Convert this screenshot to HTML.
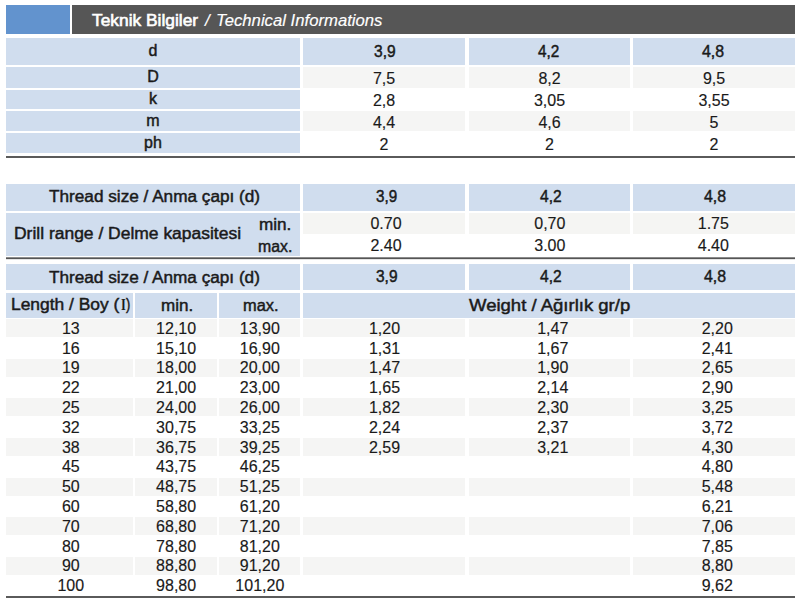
<!DOCTYPE html>
<html><head><meta charset="utf-8"><style>
html,body{margin:0;padding:0;background:#fff;}
body{width:800px;height:600px;position:relative;overflow:hidden;font-family:"Liberation Sans",sans-serif;font-size:16px;}
.b{position:absolute;}
.t{position:absolute;white-space:nowrap;color:#1a1a1a;line-height:normal;transform-origin:0 0;-webkit-text-stroke-width:0.15px;}
</style></head><body>
<div class="b" style="left:6px;top:5px;width:64px;height:29px;background:#6293ce"></div>
<div class="b" style="left:72px;top:5px;width:723px;height:29px;background:#565656"></div>
<div class="t" style="left:91.62px;top:11.07px;font-size:16.5px;-webkit-text-stroke-width:0.6px;color:#ffffff;transform:scaleX(1.052);">Teknik Bilgiler</div>
<div class="t" style="left:204.76px;top:11.07px;font-size:16.5px;font-style:italic;color:#ffffff;transform:scaleX(1.026);">/</div>
<div class="t" style="left:216.00px;top:11.07px;font-size:16.5px;font-style:italic;color:#ffffff;transform:scaleX(1.012);">Technical Informations</div>
<div class="b" style="left:6px;top:38px;width:294px;height:27px;background:#d0ddee"></div>
<div class="t" style="left:148.55px;top:42.02px;-webkit-text-stroke-width:0.45px;">d</div>
<div class="b" style="left:303px;top:38px;width:162px;height:27px;background:#d0ddee"></div>
<div class="t" style="left:374.22px;top:42.52px;-webkit-text-stroke-width:0.45px;transform:scaleX(0.971);">3,9</div>
<div class="b" style="left:469px;top:38px;width:161px;height:27px;background:#d0ddee"></div>
<div class="t" style="left:538.12px;top:42.52px;-webkit-text-stroke-width:0.45px;transform:scaleX(0.958);">4,2</div>
<div class="b" style="left:633px;top:38px;width:162px;height:27px;background:#d0ddee"></div>
<div class="t" style="left:702.42px;top:42.52px;-webkit-text-stroke-width:0.45px;transform:scaleX(0.993);">4,8</div>
<div class="b" style="left:6px;top:67px;width:294px;height:21px;background:#d0ddee"></div>
<div class="t" style="left:147.20px;top:68.02px;-webkit-text-stroke-width:0.45px;">D</div>
<div class="b" style="left:303px;top:67px;width:162px;height:21px;background:#f5f5f4"></div>
<div class="t" style="left:372.90px;top:70.02px;">7,5</div>
<div class="b" style="left:469px;top:67px;width:161px;height:21px;background:#f5f5f4"></div>
<div class="t" style="left:538.40px;top:70.02px;">8,2</div>
<div class="b" style="left:633px;top:67px;width:162px;height:21px;background:#f5f5f4"></div>
<div class="t" style="left:702.90px;top:70.02px;">9,5</div>
<div class="b" style="left:6px;top:89.6px;width:294px;height:19.80000000000001px;background:#d0ddee"></div>
<div class="t" style="left:148.95px;top:89.52px;-webkit-text-stroke-width:0.45px;">k</div>
<div class="t" style="left:372.90px;top:92.12px;">2,8</div>
<div class="t" style="left:533.95px;top:92.12px;">3,05</div>
<div class="t" style="left:698.45px;top:92.12px;">3,55</div>
<div class="b" style="left:6px;top:111px;width:294px;height:20.400000000000006px;background:#d0ddee"></div>
<div class="t" style="left:146.35px;top:111.52px;-webkit-text-stroke-width:0.45px;">m</div>
<div class="b" style="left:303px;top:111px;width:162px;height:20.400000000000006px;background:#f5f5f4"></div>
<div class="t" style="left:372.90px;top:113.62px;">4,4</div>
<div class="b" style="left:469px;top:111px;width:161px;height:20.400000000000006px;background:#f5f5f4"></div>
<div class="t" style="left:538.40px;top:113.62px;">4,6</div>
<div class="b" style="left:633px;top:111px;width:162px;height:20.400000000000006px;background:#f5f5f4"></div>
<div class="t" style="left:709.55px;top:113.62px;">5</div>
<div class="b" style="left:6px;top:133.4px;width:294px;height:20.099999999999994px;background:#d0ddee"></div>
<div class="t" style="left:144.10px;top:133.52px;-webkit-text-stroke-width:0.45px;">ph</div>
<div class="t" style="left:379.55px;top:136.12px;">2</div>
<div class="t" style="left:545.05px;top:136.12px;">2</div>
<div class="t" style="left:709.55px;top:136.12px;">2</div>
<div class="b" style="left:6px;top:156px;width:789px;height:2px;background:#5a5a5a"></div>
<div class="b" style="left:6px;top:184px;width:294px;height:27px;background:#d0ddee"></div>
<div class="t" style="left:48.54px;top:187.52px;-webkit-text-stroke-width:0.45px;transform:scaleX(1.074);">Thread size / Anma çapı (d)</div>
<div class="b" style="left:303px;top:184px;width:162px;height:27px;background:#d0ddee"></div>
<div class="t" style="left:376.21px;top:187.92px;-webkit-text-stroke-width:0.45px;transform:scaleX(0.949);">3,9</div>
<div class="b" style="left:469px;top:184px;width:161px;height:27px;background:#d0ddee"></div>
<div class="t" style="left:539.92px;top:187.92px;-webkit-text-stroke-width:0.45px;transform:scaleX(0.971);">4,2</div>
<div class="b" style="left:633px;top:184px;width:162px;height:27px;background:#d0ddee"></div>
<div class="t" style="left:703.92px;top:187.92px;-webkit-text-stroke-width:0.45px;transform:scaleX(0.993);">4,8</div>
<div class="b" style="left:6px;top:213px;width:294px;height:43px;background:#d0ddee"></div>
<div class="t" style="left:14.25px;top:224.52px;-webkit-text-stroke-width:0.45px;transform:scaleX(1.091);">Drill range / Delme kapasitesi</div>
<div class="t" style="left:258.74px;top:216.02px;-webkit-text-stroke-width:0.45px;transform:scaleX(1.070);">min.</div>
<div class="t" style="left:257.72px;top:237.62px;-webkit-text-stroke-width:0.45px;transform:scaleX(0.990);">max.</div>
<div class="b" style="left:303px;top:213px;width:162px;height:21px;background:#f5f5f3"></div>
<div class="t" style="left:370.45px;top:214.72px;">0.70</div>
<div class="t" style="left:370.45px;top:236.52px;">2.40</div>
<div class="b" style="left:469px;top:213px;width:161px;height:21px;background:#f5f5f3"></div>
<div class="t" style="left:534.25px;top:214.72px;">0,70</div>
<div class="t" style="left:534.25px;top:236.52px;">3.00</div>
<div class="b" style="left:633px;top:213px;width:162px;height:21px;background:#f5f5f3"></div>
<div class="t" style="left:697.75px;top:214.72px;">1.75</div>
<div class="t" style="left:697.75px;top:236.52px;">4.40</div>
<div class="b" style="left:6px;top:257px;width:789px;height:1px;background:#8a8a8a"></div>
<div class="b" style="left:6px;top:258px;width:789px;height:1px;background:#555555"></div>
<div class="b" style="left:6px;top:259px;width:789px;height:1px;background:#e4e4e4"></div>
<div class="b" style="left:6px;top:264px;width:294px;height:26px;background:#d0ddee"></div>
<div class="t" style="left:49.24px;top:268.72px;-webkit-text-stroke-width:0.45px;transform:scaleX(1.073);">Thread size / Anma çapı (d)</div>
<div class="b" style="left:303px;top:264px;width:162px;height:26px;background:#d0ddee"></div>
<div class="t" style="left:376.12px;top:267.72px;-webkit-text-stroke-width:0.45px;transform:scaleX(0.967);">3,9</div>
<div class="b" style="left:469px;top:264px;width:161px;height:26px;background:#d0ddee"></div>
<div class="t" style="left:539.92px;top:267.72px;-webkit-text-stroke-width:0.45px;transform:scaleX(0.971);">4,2</div>
<div class="b" style="left:633px;top:264px;width:162px;height:26px;background:#d0ddee"></div>
<div class="t" style="left:703.92px;top:267.72px;-webkit-text-stroke-width:0.45px;transform:scaleX(0.993);">4,8</div>
<div class="b" style="left:6px;top:293px;width:127px;height:24.5px;background:#d0ddee"></div>
<div class="b" style="left:135px;top:293px;width:82px;height:24.5px;background:#d0ddee"></div>
<div class="b" style="left:219px;top:293px;width:81px;height:24.5px;background:#d0ddee"></div>
<div class="b" style="left:303px;top:293px;width:492px;height:24.5px;background:#d0ddee"></div>
<div class="t" style="left:11.24px;top:296.02px;-webkit-text-stroke-width:0.45px;transform:scaleX(1.088);">Length / Boy (</div>
<div class="t" style="left:121.00px;top:295.27px;font-size:16.5px;font-family:'Liberation Serif',serif;font-weight:bold;-webkit-text-stroke-width:0;transform:scaleX(0.751);">I</div>
<div class="t" style="left:125.78px;top:296.02px;-webkit-text-stroke-width:0.45px;transform:scaleX(0.800);">)</div>
<div class="t" style="left:160.64px;top:296.52px;-webkit-text-stroke-width:0.45px;transform:scaleX(1.064);">min.</div>
<div class="t" style="left:242.83px;top:296.52px;-webkit-text-stroke-width:0.45px;transform:scaleX(1.024);">max.</div>
<div class="t" style="left:469.06px;top:297.02px;-webkit-text-stroke-width:0.45px;transform:scaleX(1.157);">Weight / Ağırlık gr/p</div>
<div class="b" style="left:6px;top:319px;width:127px;height:18px;background:#f5f5f4"></div>
<div class="b" style="left:135px;top:319px;width:82px;height:18px;background:#f5f5f4"></div>
<div class="b" style="left:219px;top:319px;width:81px;height:18px;background:#f5f5f4"></div>
<div class="b" style="left:303px;top:319px;width:162px;height:18px;background:#f5f5f4"></div>
<div class="b" style="left:469px;top:319px;width:161px;height:18px;background:#f5f5f4"></div>
<div class="b" style="left:633px;top:319px;width:162px;height:18px;background:#f5f5f4"></div>
<div class="t" style="left:61.90px;top:319.72px;">13</div>
<div class="t" style="left:156.10px;top:319.72px;">12,10</div>
<div class="t" style="left:239.80px;top:319.72px;">13,90</div>
<div class="t" style="left:368.95px;top:319.72px;">1,20</div>
<div class="t" style="left:537.15px;top:319.72px;">1,47</div>
<div class="t" style="left:701.65px;top:319.72px;">2,20</div>
<div class="t" style="left:61.90px;top:339.52px;">16</div>
<div class="t" style="left:156.10px;top:339.52px;">15,10</div>
<div class="t" style="left:239.80px;top:339.52px;">16,90</div>
<div class="t" style="left:368.95px;top:339.52px;">1,31</div>
<div class="t" style="left:537.15px;top:339.52px;">1,67</div>
<div class="t" style="left:701.65px;top:339.52px;">2,41</div>
<div class="b" style="left:6px;top:359px;width:127px;height:18px;background:#f5f5f4"></div>
<div class="b" style="left:135px;top:359px;width:82px;height:18px;background:#f5f5f4"></div>
<div class="b" style="left:219px;top:359px;width:81px;height:18px;background:#f5f5f4"></div>
<div class="b" style="left:303px;top:359px;width:162px;height:18px;background:#f5f5f4"></div>
<div class="b" style="left:469px;top:359px;width:161px;height:18px;background:#f5f5f4"></div>
<div class="b" style="left:633px;top:359px;width:162px;height:18px;background:#f5f5f4"></div>
<div class="t" style="left:61.90px;top:359.32px;">19</div>
<div class="t" style="left:156.10px;top:359.32px;">18,00</div>
<div class="t" style="left:239.80px;top:359.32px;">20,00</div>
<div class="t" style="left:368.95px;top:359.32px;">1,47</div>
<div class="t" style="left:537.15px;top:359.32px;">1,90</div>
<div class="t" style="left:701.65px;top:359.32px;">2,65</div>
<div class="t" style="left:61.90px;top:379.12px;">22</div>
<div class="t" style="left:156.10px;top:379.12px;">21,00</div>
<div class="t" style="left:239.80px;top:379.12px;">23,00</div>
<div class="t" style="left:368.95px;top:379.12px;">1,65</div>
<div class="t" style="left:537.15px;top:379.12px;">2,14</div>
<div class="t" style="left:701.65px;top:379.12px;">2,90</div>
<div class="b" style="left:6px;top:398px;width:127px;height:18px;background:#f5f5f4"></div>
<div class="b" style="left:135px;top:398px;width:82px;height:18px;background:#f5f5f4"></div>
<div class="b" style="left:219px;top:398px;width:81px;height:18px;background:#f5f5f4"></div>
<div class="b" style="left:303px;top:398px;width:162px;height:18px;background:#f5f5f4"></div>
<div class="b" style="left:469px;top:398px;width:161px;height:18px;background:#f5f5f4"></div>
<div class="b" style="left:633px;top:398px;width:162px;height:18px;background:#f5f5f4"></div>
<div class="t" style="left:61.90px;top:398.92px;">25</div>
<div class="t" style="left:156.10px;top:398.92px;">24,00</div>
<div class="t" style="left:239.80px;top:398.92px;">26,00</div>
<div class="t" style="left:368.95px;top:398.92px;">1,82</div>
<div class="t" style="left:537.15px;top:398.92px;">2,30</div>
<div class="t" style="left:701.65px;top:398.92px;">3,25</div>
<div class="t" style="left:61.90px;top:418.72px;">32</div>
<div class="t" style="left:156.10px;top:418.72px;">30,75</div>
<div class="t" style="left:239.80px;top:418.72px;">33,25</div>
<div class="t" style="left:368.95px;top:418.72px;">2,24</div>
<div class="t" style="left:537.15px;top:418.72px;">2,37</div>
<div class="t" style="left:701.65px;top:418.72px;">3,72</div>
<div class="b" style="left:6px;top:438px;width:127px;height:18px;background:#f5f5f4"></div>
<div class="b" style="left:135px;top:438px;width:82px;height:18px;background:#f5f5f4"></div>
<div class="b" style="left:219px;top:438px;width:81px;height:18px;background:#f5f5f4"></div>
<div class="b" style="left:303px;top:438px;width:162px;height:18px;background:#f5f5f4"></div>
<div class="b" style="left:469px;top:438px;width:161px;height:18px;background:#f5f5f4"></div>
<div class="b" style="left:633px;top:438px;width:162px;height:18px;background:#f5f5f4"></div>
<div class="t" style="left:61.90px;top:438.52px;">38</div>
<div class="t" style="left:156.10px;top:438.52px;">36,75</div>
<div class="t" style="left:239.80px;top:438.52px;">39,25</div>
<div class="t" style="left:368.95px;top:438.52px;">2,59</div>
<div class="t" style="left:537.15px;top:438.52px;">3,21</div>
<div class="t" style="left:701.65px;top:438.52px;">4,30</div>
<div class="t" style="left:61.90px;top:458.32px;">45</div>
<div class="t" style="left:156.10px;top:458.32px;">43,75</div>
<div class="t" style="left:239.80px;top:458.32px;">46,25</div>
<div class="t" style="left:701.65px;top:458.32px;">4,80</div>
<div class="b" style="left:6px;top:478px;width:127px;height:18px;background:#f5f5f4"></div>
<div class="b" style="left:135px;top:478px;width:82px;height:18px;background:#f5f5f4"></div>
<div class="b" style="left:219px;top:478px;width:81px;height:18px;background:#f5f5f4"></div>
<div class="b" style="left:303px;top:478px;width:162px;height:18px;background:#f5f5f4"></div>
<div class="b" style="left:469px;top:478px;width:161px;height:18px;background:#f5f5f4"></div>
<div class="b" style="left:633px;top:478px;width:162px;height:18px;background:#f5f5f4"></div>
<div class="t" style="left:61.90px;top:478.12px;">50</div>
<div class="t" style="left:156.10px;top:478.12px;">48,75</div>
<div class="t" style="left:239.80px;top:478.12px;">51,25</div>
<div class="t" style="left:701.65px;top:478.12px;">5,48</div>
<div class="t" style="left:61.90px;top:497.92px;">60</div>
<div class="t" style="left:156.10px;top:497.92px;">58,80</div>
<div class="t" style="left:239.80px;top:497.92px;">61,20</div>
<div class="t" style="left:701.65px;top:497.92px;">6,21</div>
<div class="b" style="left:6px;top:517px;width:127px;height:18px;background:#f5f5f4"></div>
<div class="b" style="left:135px;top:517px;width:82px;height:18px;background:#f5f5f4"></div>
<div class="b" style="left:219px;top:517px;width:81px;height:18px;background:#f5f5f4"></div>
<div class="b" style="left:303px;top:517px;width:162px;height:18px;background:#f5f5f4"></div>
<div class="b" style="left:469px;top:517px;width:161px;height:18px;background:#f5f5f4"></div>
<div class="b" style="left:633px;top:517px;width:162px;height:18px;background:#f5f5f4"></div>
<div class="t" style="left:61.90px;top:517.72px;">70</div>
<div class="t" style="left:156.10px;top:517.72px;">68,80</div>
<div class="t" style="left:239.80px;top:517.72px;">71,20</div>
<div class="t" style="left:701.65px;top:517.72px;">7,06</div>
<div class="t" style="left:61.90px;top:537.52px;">80</div>
<div class="t" style="left:156.10px;top:537.52px;">78,80</div>
<div class="t" style="left:239.80px;top:537.52px;">81,20</div>
<div class="t" style="left:701.65px;top:537.52px;">7,85</div>
<div class="b" style="left:6px;top:557px;width:127px;height:18px;background:#f5f5f4"></div>
<div class="b" style="left:135px;top:557px;width:82px;height:18px;background:#f5f5f4"></div>
<div class="b" style="left:219px;top:557px;width:81px;height:18px;background:#f5f5f4"></div>
<div class="b" style="left:303px;top:557px;width:162px;height:18px;background:#f5f5f4"></div>
<div class="b" style="left:469px;top:557px;width:161px;height:18px;background:#f5f5f4"></div>
<div class="b" style="left:633px;top:557px;width:162px;height:18px;background:#f5f5f4"></div>
<div class="t" style="left:61.90px;top:557.32px;">90</div>
<div class="t" style="left:156.10px;top:557.32px;">88,80</div>
<div class="t" style="left:239.80px;top:557.32px;">91,20</div>
<div class="t" style="left:701.65px;top:557.32px;">8,80</div>
<div class="t" style="left:57.45px;top:577.12px;">100</div>
<div class="t" style="left:156.10px;top:577.12px;">98,80</div>
<div class="t" style="left:235.35px;top:577.12px;">101,20</div>
<div class="t" style="left:701.65px;top:577.12px;">9,62</div>
<div class="b" style="left:6px;top:596px;width:789px;height:2px;background:#5a5a5a"></div>
</body></html>
